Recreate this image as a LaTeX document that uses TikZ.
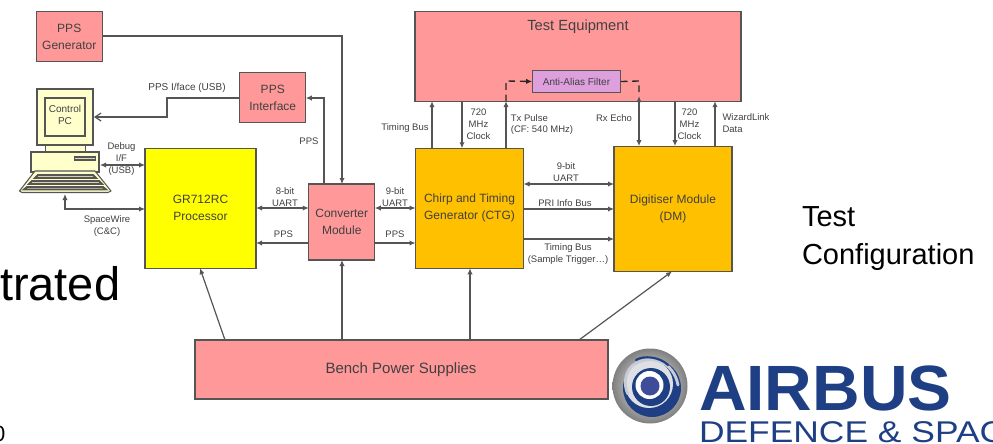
\documentclass[tikz,border=0pt]{standalone}
\usepackage{fontspec}
\setmainfont{Liberation Sans}
\usetikzlibrary{arrows.meta,calc}
\newcommand{\fpx}[1]{\fontsize{\dimexpr #1pt*3/4\relax}{\dimexpr #1pt*47/50\relax}\selectfont}
\newcommand{\fpxb}[1]{\fontsize{\dimexpr #1pt*3/4\relax}{\dimexpr #1pt*53/50\relax}\selectfont}
\definecolor{pinkb}{HTML}{FF9999}
\definecolor{amb}{HTML}{FFC000}
\definecolor{yel}{HTML}{FFFF00}
\definecolor{vio}{HTML}{DDA0DD}
\definecolor{ln}{HTML}{555555}
\definecolor{tx}{HTML}{404040}
\definecolor{cream}{HTML}{FFFFCC}
\definecolor{abl}{HTML}{1F3F85}
\definecolor{silv}{HTML}{C8CCD4}
\definecolor{core}{HTML}{3F4C9A}
\tikzset{
  every node/.style={inner sep=0pt,outer sep=0pt,align=center,text=tx},
  block/.style={draw=ln,line width=0.8pt,fill=#1,font=\fpxb{12}},
  lab/.style={font=\fpx{9.5}},
  conn/.style={draw=ln,line width=0.9pt},
  one/.style={conn,-{Latex[length=4.5pt,width=4pt]}},
  two/.style={conn,{Latex[length=4.5pt,width=4pt]}-{Latex[length=4.5pt,width=4pt]}},
  dsh/.style={draw=black!85,line width=1pt,dash pattern=on 5pt off 3.5pt},
  pcp/.style={draw=ln,line width=0.8pt,fill=cream},
}
\begin{document}
\begin{tikzpicture}[x=0.75pt,y=-0.75pt]
\useasboundingbox (0,0) rectangle (993,443);
% blocks
\node[block=pinkb,minimum width=49.5pt,minimum height=37pt] (gen) at (69.25,36.5) {PPS\\Generator};
\node[block=pinkb,minimum width=49.5pt,minimum height=37pt] (ifc) at (272.75,97.5) {PPS\\Interface};
\node[block=pinkb,minimum width=244.5pt,minimum height=67pt] (te) at (578,56.5) {};
\node[font=\fpx{14.7}] (tet) at (578,26.5) {Test Equipment};
\node[block=vio,minimum width=66.5pt,minimum height=16pt,font=\fpx{10}] (aaf) at (576.5,81.5) {Anti-Alias Filter};
\node[block=amb,minimum width=81pt,minimum height=90pt] (ctg) at (469.5,208.25) {Chirp and Timing\\Generator (CTG)};
\node[block=amb,minimum width=88.5pt,minimum height=94pt] (dm) at (673,208.75) {Digitiser Module\\(DM)};
\node[block=yel,minimum width=83.25pt,minimum height=90pt] (gr) at (200.5,208.25) {GR712RC\\Processor};
\node[block=pinkb,minimum width=49.5pt,minimum height=57pt] (cvt) at (341.75,222) {Converter\\Module};
\node[block=pinkb,minimum width=309.75pt,minimum height=44.25pt] (psu) at (401.5,369.5) {};
\node[font=\fpx{15}] (psut) at (401,370) {Bench Power Supplies};
% PC
\coordinate (pc1) at (94,117);
\coordinate (pc2) at (100,165);
\coordinate (pc3) at (65,194);
\draw[pcp] (45.5,145) rectangle (85.5,152);
\draw[pcp] (37,89) rectangle (93,145);
\draw[pcp] (45,98) rectangle (85,136);
\draw[pcp] (31,152) rectangle (99,172);
\draw[pcp,fill=cream!70!gray] (74.5,157) rectangle (95.5,160);
\draw[pcp,line join=round] (35,171) -- (95,171) -- (111,191) -- (108,192.5) -- (22,192.5) -- (19.5,191) -- cycle;
\draw[ln,line width=1.4pt,fill=cream!65!gray] (38,175) -- (93,175) -- (96,178) -- (35,178) -- cycle;
\draw[ln,line width=1.4pt,fill=cream!65!gray] (32,181) -- (99,181) -- (102,184) -- (29,184) -- cycle;
\draw[ln,line width=1.4pt,fill=cream!65!gray] (27,187) -- (103,187) -- (106,189.5) -- (24,189.5) -- cycle;
\node[font=\fpx{10}] (pct) at (65,115) {Control\\PC};
% connectors
\draw[one] (gen.east |- 0,36) -- (342,36) -- (342,0 |- cvt.north);
\draw[one] (324,0 |- cvt.north) -- (324,98) -- (ifc.east |- 0,98);
\draw[conn,-{Straight Barb[length=4.5pt,width=6pt]}] (ifc.west |- 0,98) -- (167,98) -- (167,117) -- (pc1);
\draw[two] (pc2) -- (gr.west |- 0,165);
\draw[two] (pc3) -- (65,209) -- (gr.west |- 0,209);
\draw[two] (gr.east |- 0,208) -- (cvt.west |- 0,208);
\draw[one] (cvt.west |- 0,243) -- (gr.east |- 0,243);
\draw[two] (cvt.east |- 0,208) -- (ctg.west |- 0,208);
\draw[one] (cvt.east |- 0,243) -- (ctg.west |- 0,243);
\draw[one] (225,0 |- psu.north) -- (200,0 |- gr.south);
\draw[one] (342,0 |- psu.north) -- (342,0 |- cvt.south);
\draw[one] (470,0 |- psu.north) -- (470,0 |- ctg.south);
\draw[one] (579,0 |- psu.north) -- (672,0 |- dm.south);
\draw[one] (432,0 |- ctg.north) -- (432,0 |- te.south);
\draw[one] (462,0 |- te.south) -- (462,0 |- ctg.north);
\draw[one] (506,0 |- ctg.north) -- (506,0 |- te.south);
\draw[dsh,-{Latex[length=4.5pt,width=4pt]}] (506,0 |- te.south) -- (506,81) -- (aaf.west);
\draw[dsh] (aaf.east) -- (639,81) -- (639,96);
\draw[two] (639,96) -- (639,0 |- dm.north);
\draw[one] (675,0 |- te.south) -- (675,0 |- dm.north);
\draw[one] (715,0 |- dm.north) -- (715,0 |- te.south);
\draw[two] (ctg.east |- 0,184) -- (dm.west |- 0,184);
\draw[one] (ctg.east |- 0,209) -- (dm.west |- 0,209);
\draw[one] (ctg.east |- 0,239) -- (dm.west |- 0,239);
% labels
\node[font=\fpx{10}] (l1) at (187,88) {PPS I/face (USB)};
\node[lab] (l2) at (309,141) {PPS};
\node[lab] (l3) at (121.5,159) {Debug\\I/F\\(USB)};
\node[lab] (l4) at (107,226) {SpaceWire\\(C\&C)};
\node[lab] (l5) at (285,197) {8-bit\\UART};
\node[lab] (l6) at (283.5,234) {PPS};
\node[lab] (l7) at (395,197) {9-bit\\UART};
\node[lab] (l8) at (395,234) {PPS};
\node[lab] (l9) at (405,128) {Timing Bus};
\node[lab] (l10) at (478.5,124) {720\\MHz\\Clock};
\node[lab,align=left] (l11) at (542,124.5) {Tx Pulse\\(CF: 540 MHz)};
\node[lab] (l12) at (614,118) {Rx Echo};
\node[lab] (l13) at (689.5,124) {720\\MHz\\Clock};
\node[lab,align=left] (l14) at (746,123) {WizardLink\\Data};
\node[lab] (l15) at (566,172) {9-bit\\UART};
\node[lab] (l16) at (565,203) {PRI Info Bus};
\node[lab] (l17) at (568,254) {Timing Bus\\(Sample Trigger…)};
% slide text
\node[anchor=base west,text=black,font=\fpx{47}] (bg1) at (0,300) {trated};
\node[anchor=base west,text=black,font=\fpx{29},align=left] (bg2) at (802,264) {Test\\[1pt]Configuration};
\node[anchor=base west,text=black,font=\fpx{22}] (bg3) at (-7,441) {0};
% logo
\shade[inner color=white,outer color=gray] (650,386) circle (37.5);
\fill[abl] (652,388) circle (29);
\fill[silv!60!white] (649,384) circle (24);
\fill[abl] (651,387) circle (19);
\fill[white] (649.5,385) circle (14);
\fill[core] (650,386) circle (9.5);
\draw[silv,line width=2.2pt,line cap=round] (678,385) .. controls (674,362) and (650,352) .. (632,366) .. controls (624,374) and (624,386) .. (628,394);
\draw[abl,line width=1.6pt,line cap=round] (668,365) .. controls (660,357) and (644,355) .. (636,360);
\node[anchor=base west,font=\bfseries\fpx{64},text=abl,xscale=1.03] (air) at (699,410) {AIRBUS};
\node[anchor=base west,font=\fpx{30},text=abl,xscale=1.18] (def) at (699,442) {DEFENCE \& SPAC};
\end{tikzpicture}
\end{document}
